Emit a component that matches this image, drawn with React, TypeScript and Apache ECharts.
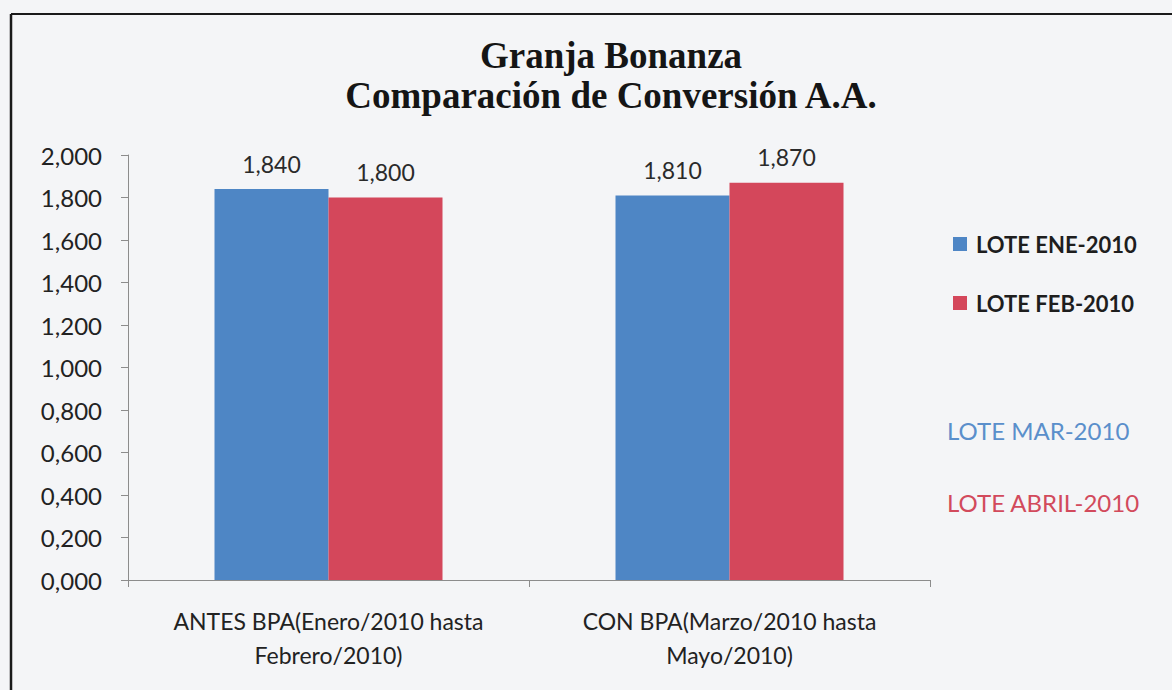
import React, { useEffect, useRef } from "react";
import * as echarts from "echarts";

const titleLines = ["Granja Bonanza", "Comparación de Conversión A.A."];
const categories = [
  "ANTES BPA(Enero/2010 hasta\nFebrero/2010)",
  "CON BPA(Marzo/2010 hasta\nMayo/2010)",
];
const seriesNames = ["LOTE ENE-2010", "LOTE FEB-2010"];
const eneValues = [1.84, 1.81];
const febValues = [1.8, 1.87];
const extraLegend = ["LOTE MAR-2010", "LOTE ABRIL-2010"];
const yMin = 0;
const yMax = 2;
const yStep = 0.2;

const BLUE = "#4e86c5";
const RED = "#d4475b";
const FONT = "Lato, 'Noto Sans', sans-serif";

const fmt = (v: number) => v.toFixed(3).replace(".", ",");

export default function App() {
  const ref = useRef<HTMLDivElement>(null);
  useEffect(() => {
    document.body.style.margin = "0";
    const chart = echarts.init(ref.current!, null, { renderer: "svg" });
    const dataLabel = {
      show: true,
      position: "top",
      distance: 14,
      formatter: (p: any) => fmt(p.value),
      fontFamily: FONT,
      fontSize: 23,
      color: "#2a2a2a",
    };
    chart.setOption({
      animation: false,
      backgroundColor: "#f4f5f7",
      title: {
        text: titleLines.join("\n"),
        left: 606,
        textAlign: "center",
        top: 30,
        textStyle: {
          fontFamily: "'Liberation Serif', 'DejaVu Serif', serif",
          fontWeight: "bold",
          fontSize: 37,
          lineHeight: 40,
          color: "#151515",
        },
      },
      legend: [
        {
          orient: "vertical",
          left: 948,
          top: 228,
          itemWidth: 14,
          itemHeight: 14,
          itemGap: 37,
          icon: "rect",
          data: seriesNames,
          textStyle: {
            fontFamily: FONT,
            fontWeight: "bold",
            fontSize: 22,
            color: "#1e1e1e",
            padding: [0, 0, 0, 4],
          },
        },
        {
          orient: "vertical",
          left: 937,
          top: 413,
          itemWidth: 0,
          itemHeight: 0,
          itemGap: 48,
          selectedMode: false,
          data: [
            { name: extraLegend[0], icon: "none", textStyle: { color: "#5a8fcb" } },
            { name: extraLegend[1], icon: "none", textStyle: { color: "#d24a5c" } },
          ],
          textStyle: {
            fontFamily: FONT,
            fontSize: 24,
          },
        },
      ],
      grid: { left: 128, top: 155, right: 242, bottom: 110 },
      xAxis: {
        type: "category",
        data: categories,
        axisLine: { lineStyle: { color: "#8c8c8c" } },
        axisTick: { show: true, length: 7, lineStyle: { color: "#8c8c8c" } },
        axisLabel: {
          interval: 0,
          margin: 24,
          fontFamily: FONT,
          fontSize: 23,
          lineHeight: 34,
          color: "#222",
        },
      },
      yAxis: {
        type: "value",
        min: yMin,
        max: yMax,
        interval: yStep,
        splitLine: { show: false },
        axisLine: { show: true, lineStyle: { color: "#8c8c8c" } },
        axisTick: { show: true, length: 7, lineStyle: { color: "#8c8c8c" } },
        axisLabel: {
          formatter: (v: number) => fmt(v),
          margin: 26,
          fontFamily: FONT,
          fontSize: 24,
          color: "#222",
        },
      },
      series: [
        {
          name: seriesNames[0],
          type: "bar",
          data: eneValues,
          barWidth: 114,
          barGap: "0%",
          itemStyle: { color: BLUE },
          label: dataLabel,
        },
        {
          name: seriesNames[1],
          type: "bar",
          data: febValues,
          barWidth: 114,
          barGap: "0%",
          itemStyle: { color: RED },
          label: dataLabel,
        },
        { name: extraLegend[0], type: "line", data: [] },
        { name: extraLegend[1], type: "line", data: [] },
      ],
      graphic: [
        {
          type: "line",
          shape: { x1: 11, y1: 14, x2: 1172, y2: 14 },
          style: { stroke: "#1a1a1a", lineWidth: 2 },
        },
        {
          type: "line",
          shape: { x1: 11, y1: 14, x2: 11, y2: 690 },
          style: { stroke: "#1a1a1a", lineWidth: 2.5 },
        },
      ],
    });
    return () => chart.dispose();
  }, []);
  return <div ref={ref} style={{ width: 1172, height: 690 }} />;
}
